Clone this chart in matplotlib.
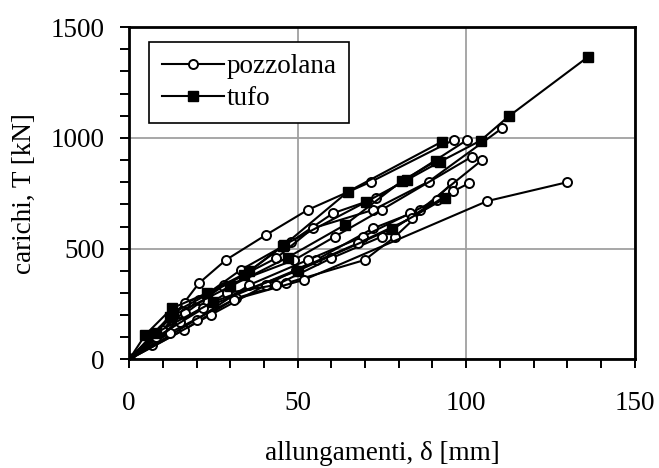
"""Load-elongation curves for pozzolana and tufo specimens."""
import matplotlib
matplotlib.use("Agg")
from matplotlib import pyplot as plt
from matplotlib.ticker import MultipleLocator

# pozzolana series: elongation [mm], load [kN]
poz_x = [
    [0, 10, 20.7, 28.7, 40.6, 53, 71.9, 96.3],
    [0, 9.8, 20.7, 33.1, 48.1, 60.5, 73.4, 100.3],
    [0, 6.8, 16.7, 28.2, 43.6, 54.5, 72.4, 88.9, 110.7],
    [0, 16.7, 28.2, 49, 61, 74.9, 101.8],
    [0, 16.2, 31.6, 46.6, 69.9, 78.9, 95.8],
    [0, 24.2, 40.6, 55.5, 72.4, 86.4, 104.8],
    [0, 20, 35.6, 53, 69.3, 83.4, 100.8],
    [0, 12, 31, 52, 106.3, 130],
    [0, 15, 29, 43.6, 60, 74.9, 91.3],
    [0, 8, 22, 49.6, 68, 84, 96],
]
poz_y = [
    [0, 130, 344, 449, 562, 675, 803, 991],
    [0, 133, 269, 404, 532, 660, 728, 991],
    [0, 65, 209, 336, 457, 592, 675, 803, 1044],
    [0, 254, 329, 449, 554, 675, 916],
    [0, 133, 276, 344, 449, 554, 795],
    [0, 201, 336, 449, 592, 675, 901],
    [0, 180, 336, 449, 554, 660, 795],
    [0, 120, 270, 360, 715, 800],
    [0, 170, 300, 336, 457, 554, 720],
    [0, 100, 230, 404, 525, 640, 760],
]

# tufo series
tufo_x = [
    [0, 4.8, 12.7, 23.2, 35.6, 45.6, 65, 92.8],
    [0, 13, 34, 46, 70.4, 82.4, 92.3, 104.3, 112.6, 136.2],
    [0, 12, 30, 47, 64, 81, 91],
    [0, 8, 25, 50, 77.9, 93.8],
]
tufo_y = [
    [0, 111, 231, 300, 397, 511, 758, 983],
    [0, 210, 380, 517, 712, 810, 893, 988, 1097, 1366],
    [0, 190, 330, 460, 607, 806, 895],
    [0, 120, 260, 400, 590, 728],
]

plt.rcParams["font.family"] = ["Liberation Serif", "DejaVu Serif"]

fig = plt.figure(figsize=(6.59, 4.68), dpi=100)
ax = fig.add_axes([0.196, 0.232, 0.767, 0.710])

for i, (xs, ys) in enumerate(zip(poz_x, poz_y)):
    ax.plot(xs, ys, "-o", color="black", lw=1.5, ms=6.5, mfc="white",
            mec="black", mew=1.4, label="pozzolana" if i == 0 else None, zorder=3)
for i, (xs, ys) in enumerate(zip(tufo_x, tufo_y)):
    ax.plot(xs, ys, "-s", color="black", lw=1.5, ms=7.5, mfc="black",
            mec="black", label="tufo" if i == 0 else None, zorder=4)

ax.set_xlim(0, 150)
ax.set_ylim(0, 1500)
ax.xaxis.set_major_locator(MultipleLocator(50))
ax.xaxis.set_minor_locator(MultipleLocator(10))
ax.yaxis.set_major_locator(MultipleLocator(500))
ax.yaxis.set_minor_locator(MultipleLocator(100))
ax.tick_params(which="both", direction="out", length=6.5, width=1.4, labelsize=19.5)
ax.tick_params(axis="x", pad=16)
ax.tick_params(axis="y", pad=11)
ax.grid(True, which="major", color="#a0a0a0", lw=1.3)
ax.set_axisbelow(True)
for s in ax.spines.values():
    s.set_linewidth(2.0)

ax.set_xlabel("allungamenti, δ [mm]", fontsize=19.5, labelpad=18)
ax.set_ylabel("carichi, T [kN]", fontsize=19.5, labelpad=10)

leg = ax.legend(loc="upper left", bbox_to_anchor=(0.04, 0.955), borderaxespad=0,
                fontsize=19.5, fancybox=False, edgecolor="black", framealpha=1,
                handlelength=2.3, handletextpad=0.1, borderpad=0.45, labelspacing=0.25)
leg.get_frame().set_linewidth(1.2)

fig.savefig("out.png", dpi=100)
